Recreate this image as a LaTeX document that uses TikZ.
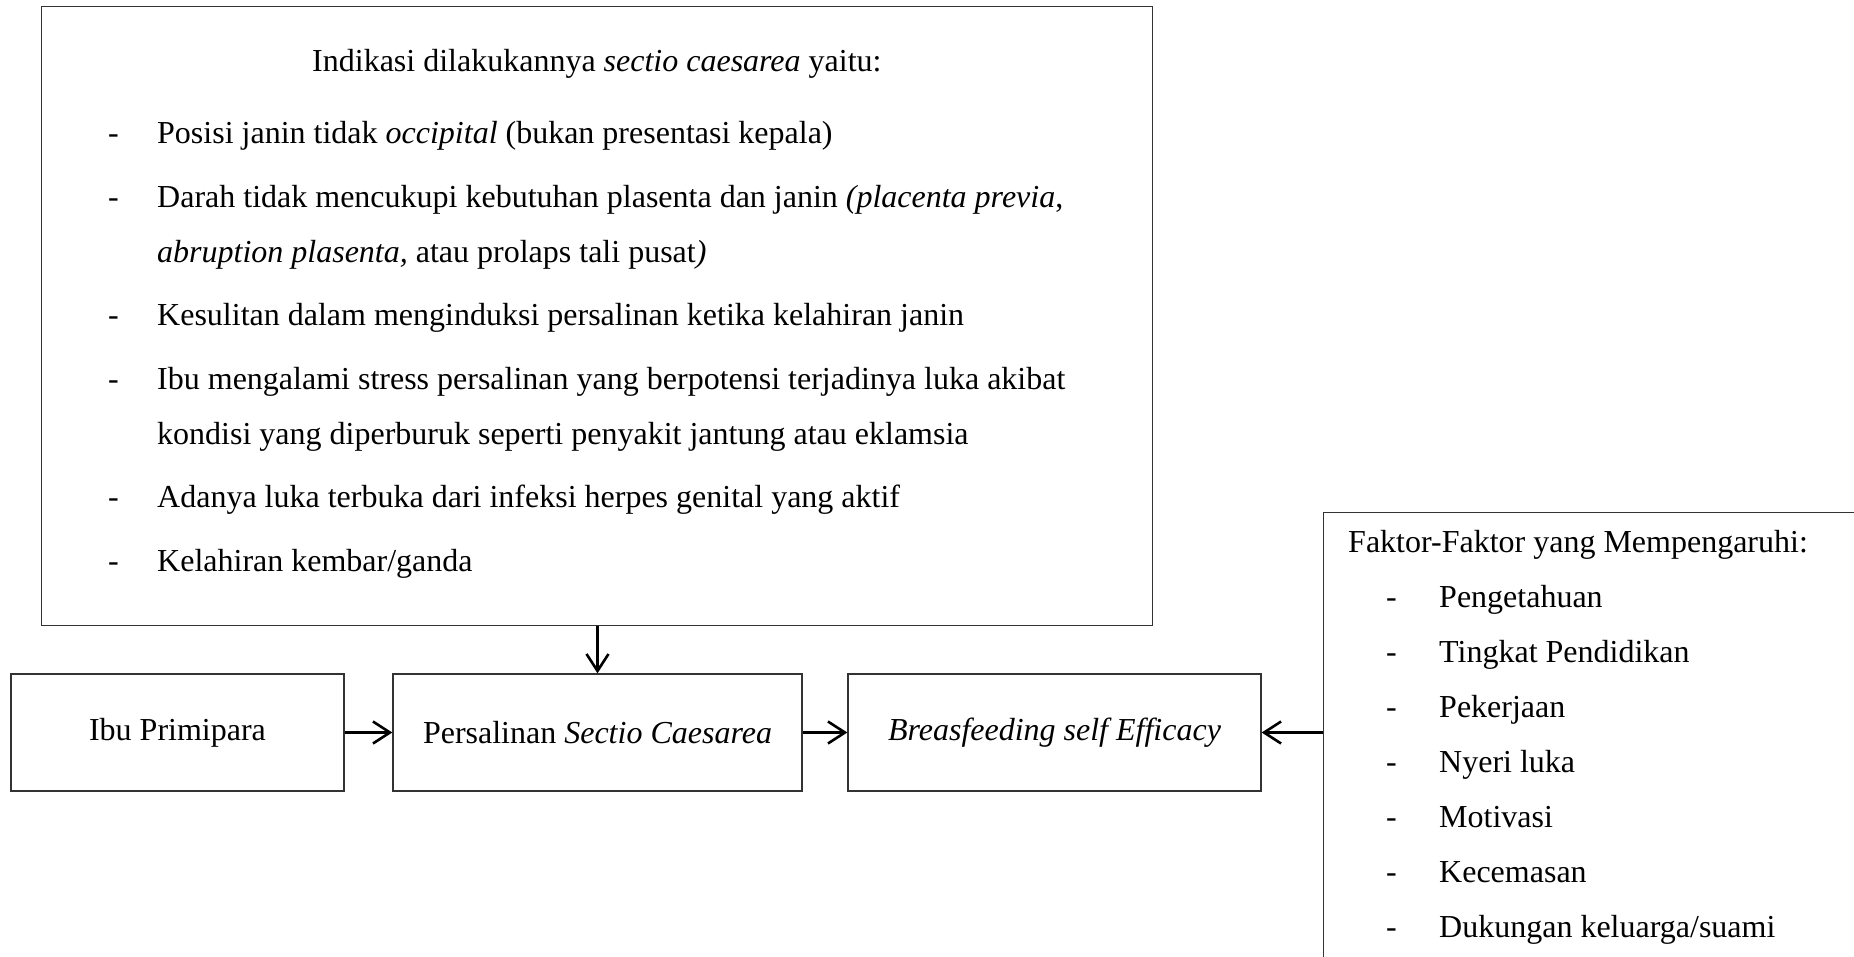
\documentclass[tikz,border=0pt]{standalone}
\usepackage{fontspec}
\setmainfont{Liberation Serif}
\usetikzlibrary{arrows.meta}
\begin{document}
\begin{tikzpicture}[x=1pt,y=-1pt,
  box/.style={draw=black!80, line width=1.3pt, rectangle, inner sep=0pt, font=\fontsize{32}{38}\selectfont},
  txt/.style={anchor=base west, inner sep=0pt, font=\fontsize{32}{38}\selectfont},
  arr/.style={line width=2.6pt, -{Straight Barb[length=17pt,width=22pt,line width=2.6pt]}}
]
\useasboundingbox (0,0) rectangle (1854,956);
\clip (0,0) rectangle (1854,956);
% boxes
\node[box, minimum width=1111pt, minimum height=619pt, anchor=north west] (top) at (41,6) {};
\node[box, minimum width=333pt, minimum height=117pt] (ibu) at (177.5,732.5) {Ibu Primipara};
\node[box, minimum width=409pt, minimum height=117pt] (pers) at (597.5,732.5) {Persalinan \textit{Sectio Caesarea}};
\node[box, minimum width=413pt, minimum height=117pt] (bse) at (1054.5,732.5) {\textit{Breasfeeding self Efficacy}};
\node[box, minimum width=600pt, minimum height=500pt, anchor=north west] (fak) at (1323,512) {};
% top box text
\node[txt] (t0) at (312,71) {Indikasi dilakukannya \textit{sectio caesarea} yaitu:};
\node[txt] (d1) at (108,143) {-};
\node[txt] (t1) at (157,143) {Posisi janin tidak \textit{occipital} (bukan presentasi kepala)};
\node[txt] (d2) at (108,207) {-};
\node[txt] (t2) at (157,207) {Darah tidak mencukupi kebutuhan plasenta dan janin \textit{(placenta previa},};
\node[txt] (t3) at (157,262) {\textit{abruption plasenta,} atau prolaps tali pusat\textit{)}};
\node[txt] (d3) at (108,325) {-};
\node[txt] (t4) at (157,325) {Kesulitan dalam menginduksi persalinan ketika kelahiran janin};
\node[txt] (d4) at (108,389) {-};
\node[txt] (t5) at (157,389) {Ibu mengalami stress persalinan yang berpotensi terjadinya luka akibat};
\node[txt] (t6) at (157,444) {kondisi yang diperburuk seperti penyakit jantung atau eklamsia};
\node[txt] (d5) at (108,507) {-};
\node[txt] (t7) at (157,507) {Adanya luka terbuka dari infeksi herpes genital yang aktif};
\node[txt] (d6) at (108,571) {-};
\node[txt] (t8) at (157,571) {Kelahiran kembar/ganda};
% right box text
\node[txt] (f0) at (1348,552) {Faktor-Faktor yang Mempengaruhi:};
\node[txt] (e1) at (1386,607) {-};
\node[txt] (g1) at (1439,607) {Pengetahuan};
\node[txt] (e2) at (1386,662) {-};
\node[txt] (g2) at (1439,662) {Tingkat Pendidikan};
\node[txt] (e3) at (1386,717) {-};
\node[txt] (g3) at (1439,717) {Pekerjaan};
\node[txt] (e4) at (1386,772) {-};
\node[txt] (g4) at (1439,772) {Nyeri luka};
\node[txt] (e5) at (1386,827) {-};
\node[txt] (g5) at (1439,827) {Motivasi};
\node[txt] (e6) at (1386,882) {-};
\node[txt] (g6) at (1439,882) {Kecemasan};
\node[txt] (e7) at (1386,937) {-};
\node[txt] (g7) at (1439,937) {Dukungan keluarga/suami};
% arrows
\draw[arr] (ibu.east) -- (pers.west);
\draw[arr] (pers.east) -- (bse.west);
\draw[arr] (top.south -| pers.north) -- (pers.north);
\draw[arr] (fak.west |- bse.east) -- (bse.east);
\end{tikzpicture}
\end{document}
